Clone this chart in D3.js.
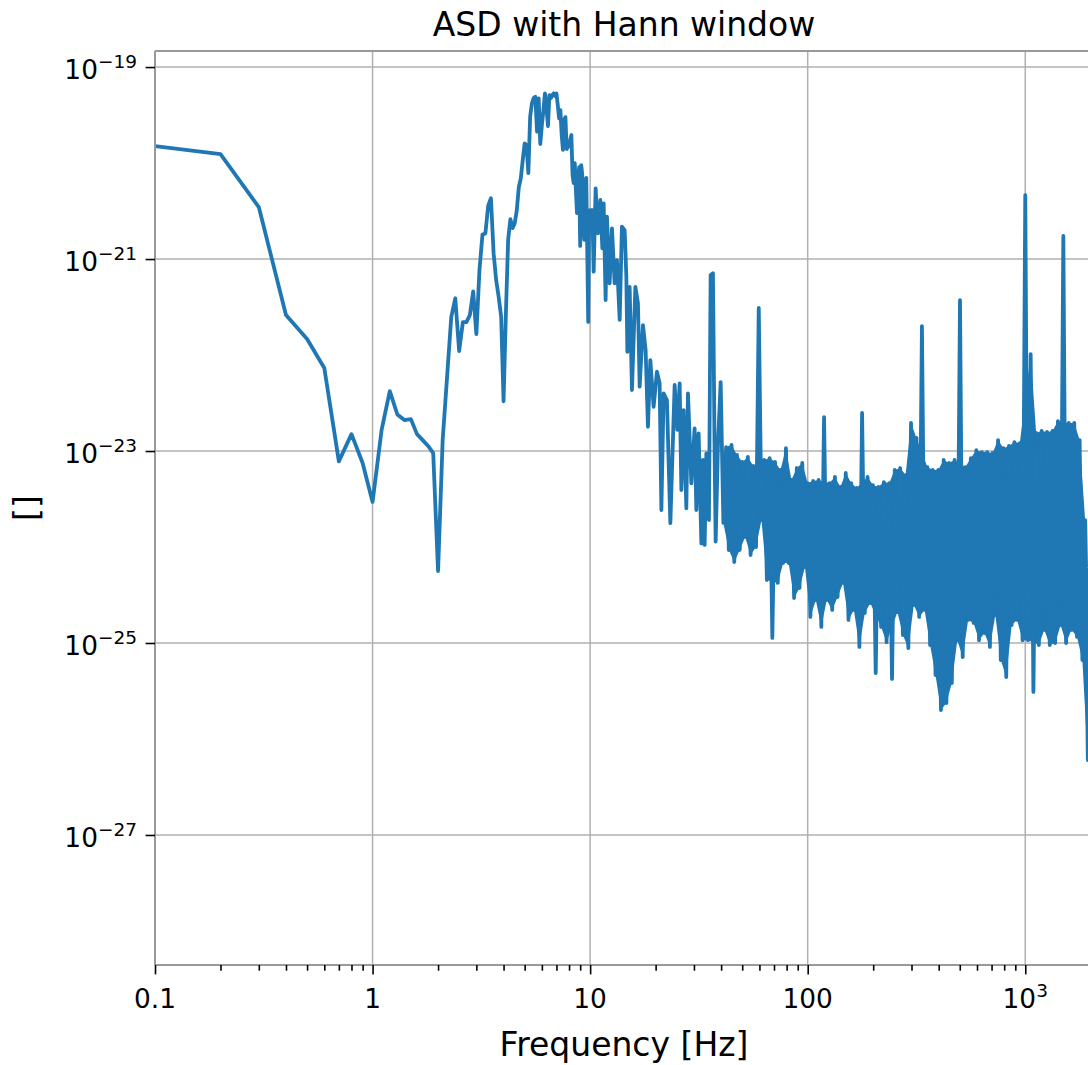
<!DOCTYPE html>
<meta charset="utf-8">

<head>
    <style>
    body { margin: 0; background: #fff; }
    svg { display: block; font-family: "DejaVu Sans", sans-serif; }
    .grid line { stroke: #b0b0b0; stroke-width: 1.5; }
    .spine { stroke: #999; stroke-width: 2; }
    .tick line { stroke: #000; stroke-width: 1.6; }
    </style>
</head>

<body>
<script src="https://d3js.org/d3.v7.min.js"></script>

<script>
//Low band, 0.1 Hz bins up to 10 Hz
var lowFreq = [
    0.1, 0.2, 0.3, 0.4, 0.5, 0.6, 0.7, 0.8, 0.9, 1.0,
    1.1, 1.2, 1.3, 1.4, 1.5, 1.6, 1.7, 1.8, 1.9, 2.0,
    2.1, 2.2, 2.3, 2.4, 2.5, 2.6, 2.7, 2.8, 2.9, 3.0,
    3.1, 3.2, 3.3, 3.4, 3.5, 3.6, 3.7, 3.8, 3.9, 4.0,
    4.1, 4.2, 4.3, 4.4, 4.5, 4.6, 4.7, 4.8, 4.9, 5.0,
    5.1, 5.2, 5.3, 5.4, 5.5, 5.6, 5.7, 5.8, 5.9, 6.0,
    6.1, 6.2, 6.3, 6.4, 6.5, 6.6, 6.7, 6.8, 6.9, 7.0,
    7.1, 7.2, 7.3, 7.4, 7.5, 7.6, 7.7, 7.8, 7.9, 8.0,
    8.1, 8.2, 8.3, 8.4, 8.5, 8.6, 8.7, 8.8, 8.9, 9.0,
    9.1, 9.2, 9.3, 9.4, 9.5, 9.6, 9.7, 9.8, 9.9, 10.0];
var lowAsd = [
    1.5e-20, 1.24e-20, 3.48e-21, 2.61e-22, 1.47e-22, 7.33e-23, 7.8e-24, 1.5e-23, 7.5e-24, 2.95e-24,
    1.65e-23, 4.2e-23, 2.4e-23, 2.1e-23, 2.15e-23, 1.5e-23, 1.3e-23, 1.13e-23, 9.5e-24, 5.6e-25,
    1.3e-23, 5.9e-23, 2.5e-22, 3.9e-22, 1.1e-22, 2.2e-22, 2.2e-22, 2.6e-22, 4.6e-22, 1.65e-22,
    7.7e-22, 1.8e-21, 1.85e-21, 3.6e-21, 4.3e-21, 1.15e-21, 6e-22, 4.0e-22, 2.5e-22, 3.3e-23,
    2.7e-22, 1.6e-21, 2.6e-21, 2.1e-21, 2.35e-21, 3.2e-21, 5.6e-21, 6.9e-21, 1.07e-20, 1.6e-20,
    1.54e-20, 7.87e-21, 3.03e-20, 4.19e-20, 4.75e-20, 4.91e-20, 2.12e-20, 4.72e-20, 1.58e-20, 2.49e-20,
    3.56e-20, 5.32e-20, 3.74e-20, 2.43e-20, 5.11e-20, 4.75e-20, 5.11e-20, 5.32e-20, 4.99e-20, 5.32e-20,
    4.02e-20, 2.92e-20, 3.56e-20, 1.96e-20, 1.37e-20, 2.81e-20, 3.01e-20, 1.40e-20, 1.47e-20, 1.54e-20,
    1.74e-20, 1.96e-20, 7.5e-21, 6.19e-21, 1.0e-20, 5.24e-21, 3.01e-21, 5.9e-21, 9.08e-21, 1.37e-21,
    9.53e-21, 7.5e-21, 2.87e-21, 1.58e-21, 6.65e-21, 6.98e-21, 1.24e-21, 2.21e-22, 3.01e-21, 3.24e-21];

//10 to 40 Hz, read at the visible turning points
var midFreq = [
    10.24, 10.38, 10.60, 10.86, 11.14, 11.38, 11.54, 11.78, 11.95, 12.29,
    12.60, 12.96, 13.28, 13.67, 14.00, 14.41, 14.67, 14.83, 15.19, 15.57,
    16.14, 16.59, 16.89, 17.49, 17.99, 18.44, 18.91, 19.58, 20.28, 20.87,
    21.25, 21.77, 22.54, 23.37, 24.46, 25.17, 25.79, 26.26, 26.90, 27.68,
    28.16, 29.19, 30.22, 30.77, 31.53, 32.45, 33.00, 33.60, 34.21, 35.16,
    35.80, 36.69, 37.35, 37.75, 38.68];
var midAsd = [
    3.24e-21, 7.38e-22, 5.45e-21, 1.85e-21, 4.12e-21, 1.29e-21, 3.80e-21, 3.74e-22, 2.76e-21, 5.58e-22,
    2.09e-21, 5.58e-22, 9.76e-22, 2.32e-22, 2.17e-21, 2.0e-21, 6.54e-22, 1.08e-22, 5.14e-22, 4.32e-23,
    5.14e-22, 3.46e-22, 4.68e-23, 2.05e-22, 1.13e-22, 1.79e-23, 8.87e-23, 2.89e-23, 6.70e-23, 5.07e-23,
    2.43e-24, 3.99e-23, 3.40e-23, 1.77e-24, 4.87e-23, 1.66e-23, 5.07e-23, 3.92e-24, 2.67e-23, 2.53e-24,
    3.99e-23, 4.60e-24, 1.72e-23, 2.43e-24, 1.53e-23, 1.09e-24, 8.06e-24, 1.05e-24, 9.45e-24, 1.91e-24,
    6.81e-22, 7.10e-22, 8.73e-24, 1.14e-24, 1.155e-23];

//40 Hz to Nyquist, alternating band tops (even index) and bottoms (odd index)
var highFreq = [
    39.81, 40.97, 42.17, 43.40, 44.67, 45.97, 47.32, 48.70, 50.12, 51.58,
    53.09, 54.64, 56.23, 57.88, 59.57, 61.31, 63.10, 64.94, 66.83, 68.79,
    70.79, 72.86, 74.99, 77.18, 79.43, 81.75, 84.14, 86.60, 89.13, 91.73,
    94.41, 97.16, 100.0, 102.9, 105.9, 109.0, 112.2, 115.5, 118.9, 122.3,
    125.9, 129.6, 133.4, 137.2, 141.3, 145.4, 149.6, 154.0, 158.5, 163.1,
    167.9, 172.8, 177.8, 183.0, 188.4, 193.9, 199.5, 205.4, 211.3, 217.5,
    223.9, 230.4, 237.1, 244.1, 251.2, 258.5, 266.1, 273.8, 281.8, 290.1,
    298.5, 307.3, 316.2, 325.5, 335.0, 344.7, 354.8, 365.2, 375.8, 386.8,
    398.1, 409.7, 421.7, 434.0, 446.7, 459.7, 473.2, 487.0, 501.2, 515.8,
    530.9, 546.4, 562.3, 578.8, 595.7, 613.1, 631.0, 649.4, 668.3, 687.9,
    707.9, 728.6, 749.9, 771.8, 794.3, 817.5, 841.4, 866.0, 891.3, 917.3,
    944.1, 971.6, 1000, 1029, 1059, 1090, 1122, 1155, 1189, 1223,
    1259, 1296, 1334, 1372, 1413, 1454, 1496, 1540, 1585, 1631,
    1679, 1728, 1778, 1830, 1884, 1939, 1995, 2048];
var highAsd = [
    5.23e-23, 1.78e-24, 1.10e-23, 9.3e-25, 1.16e-23, 6.98e-25, 9.1e-24, 9.3e-25, 7.68e-24, 1.27e-24,
    8.66e-24, 8.25e-25, 6.98e-24, 1.0e-24, 3.09e-22, 1.91e-24, 8.06e-24, 4.53e-25, 8.45e-24, 1.13e-25,
    7.68e-24, 4.22e-25, 6.34e-24, 6.81e-25, 1.07e-23, 6.81e-25, 4.99e-24, 2.94e-25, 6.65e-24, 3.74e-25,
    7.5e-24, 6.19e-25, 4.64e-24, 1.87e-25, 4.87e-24, 2.8e-25, 4.99e-24, 1.47e-25, 2.26e-23, 2.8e-25,
    4.64e-24, 2.21e-25, 5.36e-24, 3.01e-25, 4.22e-24, 4.22e-25, 5.9e-24, 1.74e-25, 4.64e-24, 2.21e-25,
    4.12e-24, 9.09e-26, 2.49e-23, 2.05e-25, 5.36e-24, 2.61e-25, 4.42e-24, 4.87e-26, 4.22e-24, 1.47e-25,
    4.75e-24, 1.02e-25, 4.64e-24, 4.22e-26, 6.34e-24, 2.1e-25, 6.65e-24, 1.21e-25, 5.62e-24, 8.87e-26,
    1.96e-23, 2.49e-25, 1.37e-23, 1.87e-25, 2.0e-22, 2.21e-25, 6.81e-24, 9.53e-26, 6.34e-24, 4.64e-26,
    6.34e-24, 2.0e-26, 8.06e-24, 2.37e-26, 7.5e-24, 3.83e-26, 8.06e-24, 1.07e-25, 3.74e-22, 7.15e-26,
    6.81e-24, 1.74e-25, 8.45e-24, 1.62e-25, 1.02e-23, 1.07e-25, 9.76e-24, 1.27e-25, 9.76e-24, 9.09e-26,
    9.53e-24, 1.96e-25, 1.30e-23, 6.65e-26, 1.07e-23, 4.42e-26, 1.13e-23, 1.54e-25, 1.24e-23, 1.74e-25,
    1.21e-23, 1.07e-25, 4.64e-21, 1.07e-25, 1.02e-22, 3.09e-26, 1.54e-23, 9.53e-26, 1.62e-23, 1.37e-25,
    1.58e-23, 9.53e-26, 1.62e-23, 1.0e-25, 2.05e-23, 1.54e-25, 1.74e-21, 1.0e-25, 1.96e-23, 1.37e-25,
    1.96e-23, 1.16e-25, 1.30e-23, 6.65e-26, 1.91e-24, 6.04e-27, 1.30e-23, 1.2e-28];

//Axis ticks and labels
var xTicks = [0.1, 1, 10, 100, 1000];
var xTickBase = ["0.1", "1", "10", "100", "10"];
var xTickSup = ["", "", "", "", "3"];
var yTicks = [1e-19, 1e-21, 1e-23, 1e-25, 1e-27];
var yTickSup = ["\u221219", "\u221221", "\u221223", "\u221225", "\u221227"];

//Plot box
var plotLeft = 155, plotRight = 1093, plotTop = 51, plotBottom = 965;

var freq = lowFreq.concat(midFreq, highFreq);
var asd = lowAsd.concat(midAsd, highAsd);
var data = freq.map(function(f, i) { return { f: f, v: asd[i] }; });

var x = d3.scaleLog().domain([0.1, 2048]).range([plotLeft, plotRight]);
var y = d3.scaleLog().domain([4.42e-29, 1.47e-19]).range([plotBottom, plotTop]);

var svg = d3.select("body").append("svg")
    .attr("width", 1088)
    .attr("height", 1065);

svg.append("clipPath").attr("id", "plotclip")
    .append("rect")
    .attr("x", plotLeft).attr("y", plotTop)
    .attr("width", plotRight - plotLeft).attr("height", plotBottom - plotTop);

//Grid
var grid = svg.append("g").attr("class", "grid");
grid.selectAll(".gx").data(xTicks).enter().append("line")
    .attr("x1", function(d) { return x(d); })
    .attr("x2", function(d) { return x(d); })
    .attr("y1", plotTop).attr("y2", plotBottom);
grid.selectAll(".gy").data(yTicks).enter().append("line")
    .attr("x1", plotLeft).attr("x2", plotRight)
    .attr("y1", function(d) { return y(d); })
    .attr("y2", function(d) { return y(d); });

//Solid core of the noise band: tops forward, bottoms back, lone lines left out
var band = highFreq.map(function(f, i) { return { f: f, v: highAsd[i] }; });
function keepEdge(pts, up) {
    return pts.filter(function(d, i) {
        var n = [pts[i - 1], pts[i + 1]].filter(Boolean);
        var ref = Math.exp(d3.mean(n, function(p) { return Math.log(p.v); }));
        return up ? d.v <= ref * 2.5 : d.v >= ref / 2.5;
    });
}
var tops = keepEdge(band.filter(function(d, i) { return i % 2 === 0; }), true);
var bots = keepEdge(band.filter(function(d, i) { return i % 2 === 1; }), false);

var line = d3.line()
    .x(function(d) { return x(d.f); })
    .y(function(d) { return y(d.v); });

var g = svg.append("g").attr("clip-path", "url(#plotclip)");

g.append("path")
    .datum(tops.concat(bots.slice().reverse()))
    .attr("fill", "#1f77b4")
    .attr("d", d3.line().curve(d3.curveLinearClosed)
        .x(function(d) { return x(d.f); })
        .y(function(d) { return y(d.v); }));

//ASD line
g.append("path")
    .datum(data)
    .attr("fill", "none")
    .attr("stroke", "#1f77b4")
    .attr("stroke-width", 3.8)
    .attr("stroke-linejoin", "round")
    .attr("d", line);

//Spines
[[plotLeft, plotTop, plotLeft, plotBottom], [plotLeft, plotTop, plotRight, plotTop],
 [plotLeft, plotBottom, plotRight, plotBottom], [plotRight, plotTop, plotRight, plotBottom]]
    .forEach(function(s) {
        svg.append("line").attr("class", "spine")
            .attr("x1", s[0]).attr("y1", s[1]).attr("x2", s[2]).attr("y2", s[3]);
    });

//Ticks
function isDecade(t) {
    var l = Math.log10(t);
    return Math.abs(l - Math.round(l)) < 1e-6;
}
svg.append("g")
    .attr("transform", "translate(0," + plotBottom + ")")
    .call(d3.axisBottom(x).tickValues(x.ticks().filter(function(t) { return !isDecade(t); }))
        .tickSize(5.7).tickFormat(""))
    .call(function(g) { g.select(".domain").remove(); });
svg.append("g")
    .attr("transform", "translate(0," + plotBottom + ")")
    .call(d3.axisBottom(x).tickValues(xTicks).tickSize(9.4).tickFormat(""))
    .call(function(g) { g.select(".domain").remove(); });
svg.append("g")
    .attr("transform", "translate(" + plotLeft + ",0)")
    .call(d3.axisLeft(y).tickValues(yTicks).tickSize(9.4).tickFormat(""))
    .call(function(g) { g.select(".domain").remove(); });

//Tick labels
var xl = svg.append("g").selectAll("text").data(xTicks).enter().append("text")
    .attr("x", function(d) { return x(d); })
    .attr("y", 1008)
    .attr("text-anchor", "middle")
    .style("font-size", "26.4px");
xl.append("tspan").text(function(d, i) { return xTickBase[i]; });
xl.append("tspan")
    .attr("dy", -11)
    .style("font-size", "18.5px")
    .text(function(d, i) { return xTickSup[i]; });

var yl = svg.append("g").selectAll("text").data(yTicks).enter().append("text")
    .attr("x", 137)
    .attr("y", function(d) { return y(d) + 12; })
    .attr("text-anchor", "end")
    .style("font-size", "26.4px");
yl.append("tspan").text("10");
yl.append("tspan")
    .attr("dy", -11)
    .style("font-size", "18.5px")
    .text(function(d, i) { return yTickSup[i]; });

//Axis labels and title
svg.append("text")
    .attr("x", (plotLeft + plotRight) / 2)
    .attr("y", 1056)
    .attr("text-anchor", "middle")
    .style("font-size", "33px")
    .text("Frequency [Hz]");

svg.append("text")
    .attr("transform", "translate(38," + ((plotTop + plotBottom) / 2) + ") rotate(-90)")
    .attr("text-anchor", "middle")
    .style("font-size", "33px")
    .text("[]");

svg.append("text")
    .attr("x", (plotLeft + plotRight) / 2)
    .attr("y", 36)
    .attr("text-anchor", "middle")
    .style("font-size", "33px")
    .text("ASD with Hann window");
</script>
</body>
